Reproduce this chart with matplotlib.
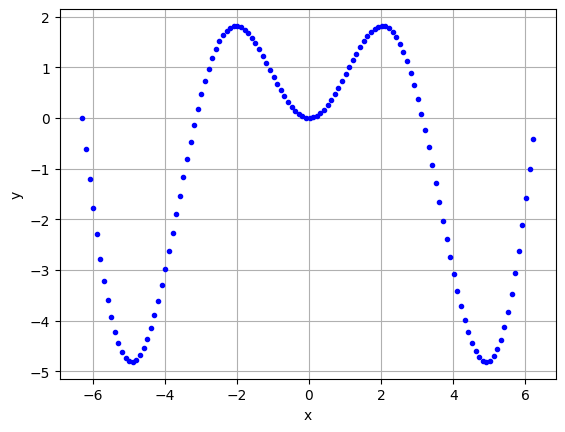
import matplotlib
matplotlib.use("Agg")
import matplotlib.pyplot as plt

# sample points
x = [-6.283, -6.183, -6.083, -5.983, -5.883, -5.783, -5.683, -5.583, -5.483, -5.383,
     -5.283, -5.183, -5.083, -4.983, -4.883, -4.783, -4.683, -4.583, -4.483, -4.383,
     -4.283, -4.183, -4.083, -3.983, -3.883, -3.783, -3.683, -3.583, -3.483, -3.383,
     -3.283, -3.183, -3.083, -2.983, -2.883, -2.783, -2.683, -2.583, -2.483, -2.383,
     -2.283, -2.183, -2.083, -1.983, -1.883, -1.783, -1.683, -1.583, -1.483, -1.383,
     -1.283, -1.183, -1.083, -0.983, -0.883, -0.783, -0.683, -0.583, -0.483, -0.383,
     -0.283, -0.183, -0.083, 0.017, 0.117, 0.217, 0.317, 0.417, 0.517, 0.617,
     0.717, 0.817, 0.917, 1.017, 1.117, 1.217, 1.317, 1.417, 1.517, 1.617,
     1.717, 1.817, 1.917, 2.017, 2.117, 2.217, 2.317, 2.417, 2.517, 2.617,
     2.717, 2.817, 2.917, 3.017, 3.117, 3.217, 3.317, 3.417, 3.517, 3.617,
     3.717, 3.817, 3.917, 4.017, 4.117, 4.217, 4.317, 4.417, 4.517, 4.617,
     4.717, 4.817, 4.917, 5.017, 5.117, 5.217, 5.317, 5.417, 5.517, 5.617,
     5.717, 5.817, 5.917, 6.017, 6.117, 6.217]

y = [-0.000, -0.617, -1.209, -1.768, -2.291, -2.773, -3.209, -3.597, -3.933, -4.217,
     -4.446, -4.619, -4.738, -4.802, -4.812, -4.771, -4.681, -4.545, -4.366, -4.148,
     -3.895, -3.611, -3.301, -2.970, -2.623, -2.264, -1.899, -1.531, -1.167, -0.809,
     -0.463, -0.132, 0.180, 0.471, 0.737, 0.976, 1.187, 1.369, 1.519, 1.639,
     1.728, 1.786, 1.816, 1.817, 1.792, 1.743, 1.673, 1.583, 1.477, 1.359,
     1.230, 1.095, 0.957, 0.818, 0.682, 0.553, 0.431, 0.321, 0.224, 0.143,
     0.079, 0.033, 0.007, 0.000, 0.014, 0.047, 0.099, 0.169, 0.255, 0.357,
     0.471, 0.595, 0.728, 0.865, 1.004, 1.141, 1.275, 1.400, 1.515, 1.615,
     1.699, 1.762, 1.803, 1.820, 1.809, 1.770, 1.701, 1.602, 1.472, 1.311,
     1.120, 0.899, 0.650, 0.375, 0.077, -0.242, -0.578, -0.929, -1.289, -1.655,
     -2.022, -2.386, -2.741, -3.084, -3.408, -3.710, -3.983, -4.225, -4.431, -4.596,
     -4.717, -4.791, -4.814, -4.786, -4.704, -4.567, -4.375, -4.128, -3.826, -3.472,
     -3.067, -2.616, -2.120, -1.584, -1.013, -0.412]

fig, ax = plt.subplots(figsize=(6.4, 4.8))
ax.plot(x, y, 'b.')
ax.set_xlabel('x')
ax.set_ylabel('y')
ax.grid(True)

plt.savefig("out.png", dpi=100, bbox_inches='tight')
